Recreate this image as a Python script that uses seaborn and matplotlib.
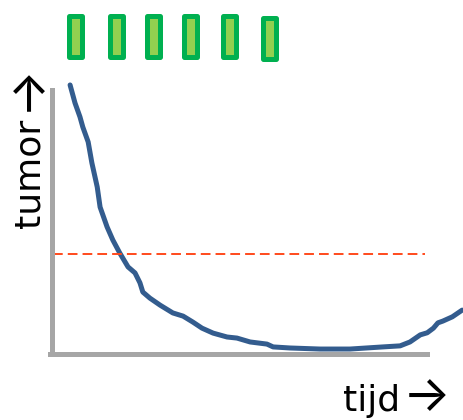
import matplotlib
matplotlib.use("Agg")
import matplotlib.pyplot as plt
import seaborn as sb

# tumour size over time (arbitrary units)
tijd = [4.4, 5.6, 6.8, 7.5, 8.8, 9.7, 11.0, 11.7, 13.4, 14.8, 16.5, 18.5, 20.2,
        21.4, 22.1, 23.8, 26.3, 29.4, 31.9, 34.3, 36.5, 39.2, 42.6, 45.0, 48.2,
        52.3, 53.8, 57.9, 65.2, 72.5, 80.5, 84.7, 87.1, 89.6, 91.3, 92.8, 93.9,
        95.1, 97.4, 99.8]
tumor = [76.0, 70.9, 67.0, 64.1, 59.9, 54.0, 47.2, 41.5, 35.9, 32.2, 28.5, 24.6,
         22.9, 20.1, 17.5, 15.8, 13.8, 11.6, 10.7, 9.0, 7.3, 5.9, 4.8, 4.5, 3.4,
         2.8, 2.0, 1.7, 1.4, 1.4, 2.0, 2.3, 3.4, 5.4, 6.0, 7.3, 8.8, 9.3, 10.5,
         12.4]

# treatment moments (green blocks)
doses = [5.8, 15.6, 24.6, 33.8, 43.1, 52.8]
dose_bottom = [84.0, 84.0, 84.0, 84.0, 83.8, 83.2]
dose_len = 11.6

threshold = 28.25

sb.set_style("white")
plt.rcParams['font.family'] = ['DejaVu Sans']

fig = plt.figure(figsize=(4.63, 4.20), dpi=100)
ax = fig.add_axes([52 / 463, 66 / 420, 411 / 463, 354 / 420])
ax.set_xlim(0, 100)
ax.set_ylim(0, 100)

sb.lineplot(x=tijd, y=tumor, ax=ax, color="#335c8e", linewidth=3.6,
            sort=False, clip_on=False)
ax.plot([0.2, 90.7], [threshold, threshold], color="#ff4a1c", linewidth=1.4,
        linestyle=(0, (5, 2.6)))

bars = ax.bar(doses, [dose_len] * len(doses), bottom=dose_bottom, width=3.16,
              color="#92d050", edgecolor="#00b050", linewidth=3.6)
for b in bars:
    b.set_joinstyle("round")

for side in ["top", "right"]:
    ax.spines[side].set_visible(False)
for side in ["left", "bottom"]:
    ax.spines[side].set_linewidth(3.6)
    ax.spines[side].set_color("#a6a6a6")
ax.spines["left"].set_bounds(0.5, 74.6)
ax.spines["bottom"].set_bounds(-0.5, 91.2)
ax.set_xticks([])
ax.set_yticks([])
ax.patch.set_alpha(0)

# axis labels, arrow from Inter (chevron style head)
arrow_font = ['Inter', 'DejaVu Sans']
fig.text(29.5 / 463, 1 - 173 / 420, "tumor", rotation=90, fontsize=26,
         color="black", ha="center", va="center")
fig.text(26.5 / 463, 1 - 87 / 420, "\u2192", rotation=90, fontsize=36,
         family=arrow_font, color="black", ha="center", va="center")
fig.text(343 / 463, 1 - 411 / 420, "tijd", fontsize=26,
         color="black", ha="left", va="baseline")
fig.text(427 / 463, 1 - 398 / 420, "\u2192", fontsize=36,
         family=arrow_font, color="black", ha="center", va="center")

fig.savefig("out.png", dpi=100)
